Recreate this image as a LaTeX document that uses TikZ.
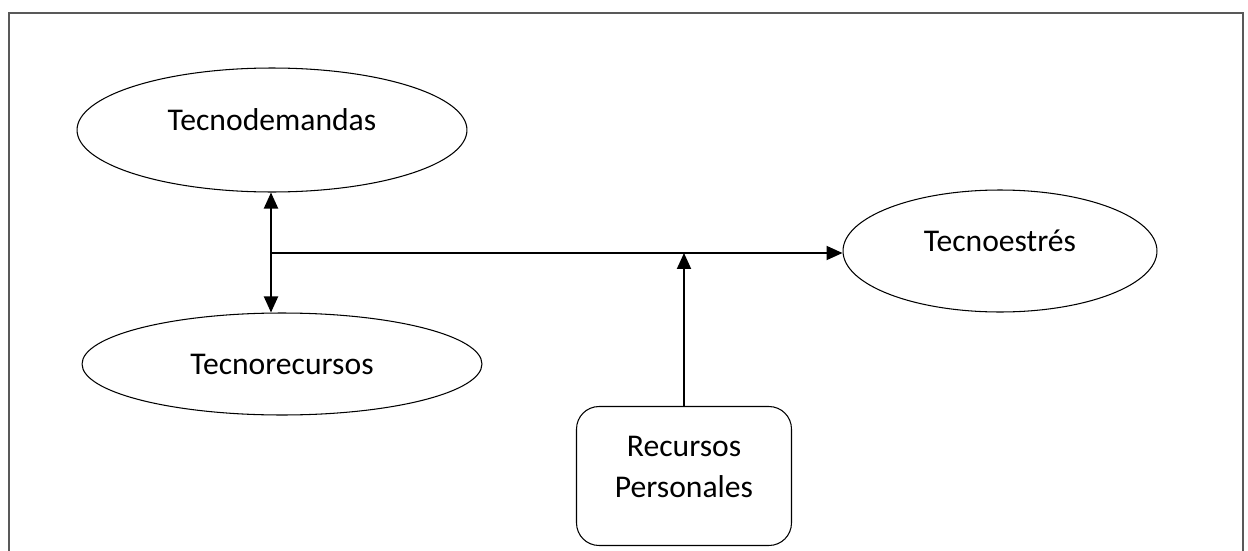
\documentclass[tikz,border=0pt]{standalone}
\usepackage{fontspec}
\setmainfont{Carlito}
\usetikzlibrary{arrows.meta,calc,positioning,shapes.geometric}

\begin{document}
\begin{tikzpicture}[x=0.02cm,y=-0.02cm,
    oval/.style={draw,ellipse,line width=0.6pt,inner sep=0pt},
    lbl/.style={font=\fontsize{18}{23.3}\selectfont,align=center},
    link/.style={line width=1.1pt,-{Triangle[length=0.32cm,width=0.28cm]}}]
    \useasboundingbox (0,0) rectangle (1248,551);
    % outer frame, open at the bottom
    \draw[line width=1.2pt,black!65] (9,551) -- (9,13) -- (1243,13) -- (1243,551);

    % Draw nodes
    \node[oval,minimum width=7.8cm,minimum height=2.48cm] (dem) at (272,130) {};
    \node[oval,minimum width=8cm,minimum height=2.04cm] (rec) at (282,364) {};
    \node[oval,minimum width=6.28cm,minimum height=2.44cm] (est) at (1000,251) {};
    \node[draw,rounded corners=0.45cm,line width=0.6pt,minimum width=4.3cm,minimum height=2.78cm] (rp) at (684,476) {};

    % Texts
    \node[lbl] (demtxt) at (272,120) {Tecnodemandas};
    \node[lbl] (rectxt) at (282,364) {Tecnorecursos};
    \node[lbl] (esttxt) at (1000,241) {Tecnoestrés};
    \node[lbl] (rptxt) at (684,467) {Recursos\\Personales};

    % Draw connectors
    \coordinate (jn) at (271,253);
    \draw[link,{Triangle[length=0.32cm,width=0.28cm]}-{Triangle[length=0.32cm,width=0.28cm]}]
        (dem.south -| jn) -- (rec.north -| jn);
    \draw[link] (jn) -- (jn -| est.west);
    \draw[link] (rp.north) -- (rp.north |- jn);
\end{tikzpicture}
\end{document}
